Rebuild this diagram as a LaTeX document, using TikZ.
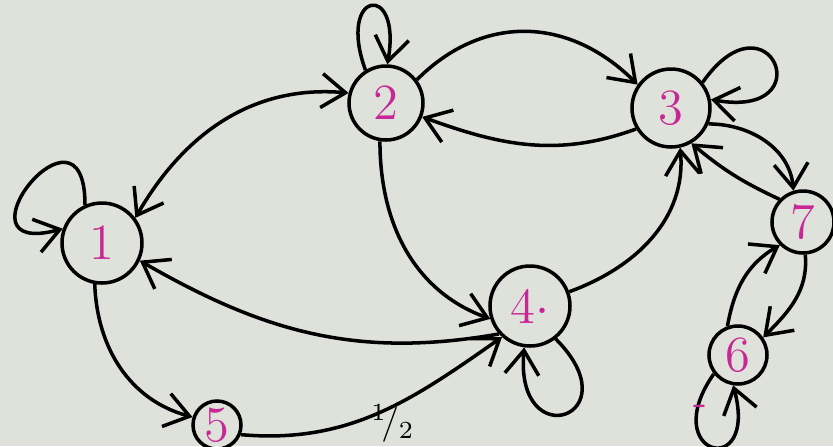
\documentclass[tikz,border=0pt]{standalone}
\usepackage{xcolor}
\usepackage{tikz}
\usetikzlibrary{arrows.meta}

\definecolor{paper}{RGB}{222,226,219}
\definecolor{penpink}{RGB}{200,40,150}

\begin{document}
\begin{tikzpicture}[
 >={Straight Barb[length=2.4mm, width=3.4mm]},
 state/.style={circle, draw=black, line width=1pt, inner sep=0pt,
   font=\Large, text=penpink},
 link/.style={->, line width=1pt, draw=black},
 twoway/.style={<->, line width=1pt, draw=black}
]
\fill[paper] (0,0) rectangle (8.33,4.46);
\useasboundingbox (0,0) rectangle (8.33,4.46);

% states
\node[state, minimum size=0.80cm] (s1) at (1.02,2.03) {1};
\node[state, minimum size=0.74cm] (s2) at (3.86,3.43) {2};
\node[state, minimum size=0.78cm] (s3) at (6.71,3.38) {3};
\node[state, minimum size=0.80cm] (s4) at (5.30,1.40) {4$\cdot$};
\node[state, minimum size=0.48cm] (s5) at (2.17,0.21) {5};
\node[state, minimum size=0.58cm] (s6) at (7.38,0.91) {6};
\node[state, minimum size=0.62cm] (s7) at (8.03,2.24) {7};

% self loops
\draw[link] (s1.114) to[out=90, in=195, distance=1.2cm] (s1.160);
\draw[link] (s2.122) to[out=110, in=80, distance=0.85cm] (s2.88);
\draw[link] (s3.39) to[out=55, in=-10, distance=1.15cm] (s3.12);
\draw[link] (s4.-52) to[out=-45, in=-95, distance=1.1cm] (s4.-98);
\draw[link] (s6.-142) to[out=-125, in=-75, distance=1.0cm] (s6.-99);

% transitions
\draw[twoway] (s1.37) to[out=60, in=175] (s2.165);
\draw[link] (s2.37) to[out=45, in=135, looseness=1.1] (s3.145);
\draw[link] (s3.211) to[out=200, in=-20] (s2.-21);
\draw[link] (s2.-99) to[out=-90, in=160] (s4.198);
\draw[link] (s4.20) to[out=20, in=-85] (s3.-77);
\draw[link] (s3.-23) to[out=0, in=95] (s7.107);
\draw[link] (s7.136) to[out=155, in=-40] (s3.-60);
\draw[link] (s7.-86) to[out=-85, in=45] (s6.35);
\draw[link] (s6.110) to[out=80, in=210] (s7.225);
\draw[link] (s4.222) to[out=190, in=-30] (s1.-25);
\draw[link] (s1.-100) to[out=-88, in=165] (s5.162);
\draw[link] (s5.-22) to[out=-5, in=215] (s4.228);

% marks
\node[text=penpink, font=\large] (dash6) at (7.00,0.36) {-};
\node[font=\normalsize, anchor=south, inner sep=1pt] (half) at (3.93,0.0) {${}^{1}\!/{}_{2}$};
\end{tikzpicture}
\end{document}
